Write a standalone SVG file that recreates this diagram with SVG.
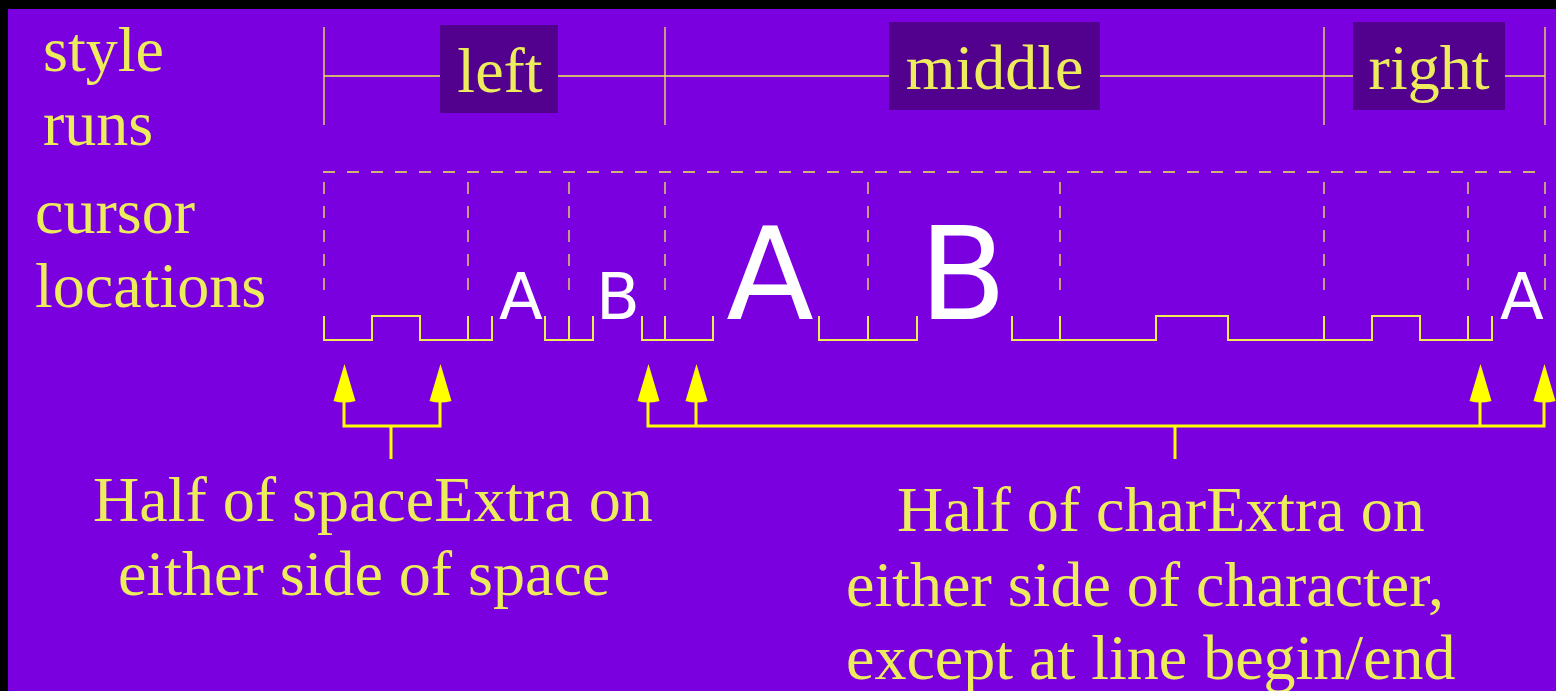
<svg xmlns="http://www.w3.org/2000/svg" width="1556" height="691" viewBox="0 0 1556 691">
<defs>
<style>
.lbl{font-family:"Liberation Serif","Times New Roman",serif;font-size:64px;fill:#ECEC5C;}
.box{fill:#52008E;}
.thin{stroke:#EEEE50;stroke-width:1.3;fill:none;}
.dash{stroke:#EEEE50;stroke-width:1.3;fill:none;stroke-dasharray:12 12;}
.step{stroke:#EEEE50;stroke-width:2;fill:none;}
.glyph{font-family:"DejaVu Sans",Verdana,sans-serif;fill:#FFFFFF;text-anchor:middle;}
.brk{stroke:#FFFF00;stroke-width:3;fill:none;}
.head{fill:#FFFF00;}
</style>
<path id="ah" d="M0,0 L11,37 Q0,40 -11,37 Z"/>
</defs>
<rect x="0" y="0" width="1556" height="691" fill="#000"/>
<rect x="8" y="9" width="1548" height="682" fill="#7B00E0"/>

<g id="row-labels">
<text class="lbl" x="43" y="71">style</text>
<text class="lbl" x="43" y="145">runs</text>
<text class="lbl" x="35" y="233">cursor</text>
<text class="lbl" x="35" y="307">locations</text>
</g>

<g id="style-runs">
<line class="thin" x1="324" y1="76" x2="1545" y2="76"/>
<line class="thin" x1="324" y1="27" x2="324" y2="125"/>
<line class="thin" x1="665" y1="27" x2="665" y2="125"/>
<line class="thin" x1="1324" y1="27" x2="1324" y2="125"/>
<line class="thin" x1="1545" y1="27" x2="1545" y2="125"/>
</g>
<g id="run-left">
<rect class="box" x="440" y="25" width="118" height="88"/>
<text class="lbl" x="500" y="92" text-anchor="middle">left</text>
</g>
<g id="run-middle">
<rect class="box" x="889" y="22" width="211" height="88"/>
<text class="lbl" x="994.5" y="89" text-anchor="middle">middle</text>
</g>
<g id="run-right">
<rect class="box" x="1353" y="22" width="152" height="88"/>
<text class="lbl" x="1429" y="89" text-anchor="middle">right</text>
</g>

<g id="cursor-grid">
<line class="dash" x1="323" y1="172" x2="1545" y2="172"/>
<line class="dash" x1="324" y1="182" x2="324" y2="292"/>
<line class="dash" x1="468" y1="182" x2="468" y2="292"/>
<line class="dash" x1="569" y1="182" x2="569" y2="292"/>
<line class="dash" x1="665" y1="182" x2="665" y2="292"/>
<line class="dash" x1="868" y1="182" x2="868" y2="292"/>
<line class="dash" x1="1060" y1="182" x2="1060" y2="292"/>
<line class="dash" x1="1324" y1="182" x2="1324" y2="292"/>
<line class="dash" x1="1468" y1="182" x2="1468" y2="292"/>
<line class="dash" x1="1545" y1="182" x2="1545" y2="292"/>
</g>

<g id="steps">
<path class="step" d="M324,316 V340 H372 V316 H420 V340 H492 V316 M468,316 V340"/>
<path class="step" d="M545,316 V340 H593 V316 M569,316 V340"/>
<path class="step" d="M642,316 V340 H713 V316 M665,316 V340"/>
<path class="step" d="M819,316 V340 H917 V316 M868,316 V340"/>
<path class="step" d="M1012,316 V340 H1156 V316 H1228 V340 H1372 V316 H1420 V340 H1492 V316 M1060,316 V340 M1324,316 V340 M1468,316 V340"/>
</g>

<g id="glyphs">
<text class="glyph" x="521" y="319" font-size="64">A</text>
<text class="glyph" x="618" y="319" font-size="64">B</text>
<text class="glyph" x="770" y="319" font-size="128">A</text>
<text class="glyph" x="963" y="319" font-size="128">B</text>
<text class="glyph" x="1522" y="319" font-size="64">A</text>
</g>

<g id="connectors">
<path class="brk" d="M344,400 V426 H440 V400 M391,426 V459"/>
<use href="#ah" class="head" x="344.5" y="364"/>
<use href="#ah" class="head" x="440.5" y="364"/>
<path class="brk" d="M648,400 V426 H1544 V400 M696,400 V426 M1480,400 V426 M1175,426 V459"/>
<use href="#ah" class="head" x="648.5" y="364"/>
<use href="#ah" class="head" x="696.5" y="364"/>
<use href="#ah" class="head" x="1480.5" y="364"/>
<use href="#ah" class="head" x="1544.5" y="364"/>
</g>

<g id="note-space">
<text class="lbl" x="93" y="521">Half of spaceExtra on</text>
<text class="lbl" x="118" y="595">either side of space</text>
</g>
<g id="note-char">
<text class="lbl" x="897" y="531">Half of charExtra on</text>
<text class="lbl" x="846" y="606">either side of character,</text>
<text class="lbl" x="846" y="679">except at line begin/end</text>
</g>
</svg>
